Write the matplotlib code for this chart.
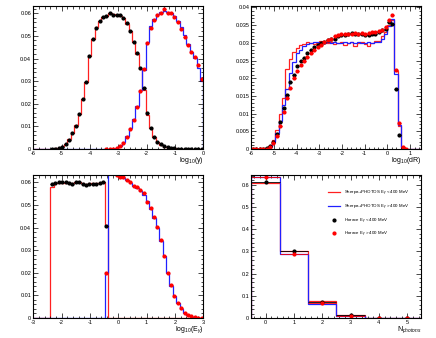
"""==============================================================
# libraries
=============================================================="""
import numpy as np
import matplotlib
matplotlib.use("Agg")
import matplotlib.pyplot as plt
from matplotlib.ticker import MultipleLocator, FuncFormatter

plt.rcParams["font.family"] = ["Liberation Sans", "DejaVu Sans"]
plt.rcParams["axes.unicode_minus"] = False
plt.rcParams["mathtext.fontset"] = "custom"
plt.rcParams["mathtext.rm"] = "Liberation Sans"
plt.rcParams["mathtext.it"] = "Liberation Sans:italic"

nan = np.nan

"""==============================================================
# data : log10(y), 50 bins from -6 to 0
=============================================================="""
y_edges = np.linspace(-6, 0, 51)

y_sherpa_lo = [0, 0, 0, 0, 0, 0.0001, 0.0003, 0.0006, 0.0012, 0.0022,
               0.0042, 0.0072, 0.0105, 0.0155, 0.0222, 0.0298, 0.0412, 0.0488, 0.0538, 0.0565,
               0.0583, 0.0590, 0.0600, 0.0596, 0.0594, 0.0590, 0.0577, 0.0553, 0.0520, 0.0474,
               0.0420, 0.0355, 0.0262, 0.0152, 0.0092, 0.0052, 0.0030, 0.0018, 0.0011, 0.0007,
               0.0004, 0.0003, 0.0002, 0.0001, 0.0001, 0.0001, 0.0001, 0.0001, 0.0001, 0.0001]
y_sherpa_hi = [0, 0, 0, 0, 0, 0, 0, 0, 0, 0,
               0, 0, 0, 0, 0, 0, 0, 0, 0, 0,
               0, 0, 0.0001, 0.0002, 0.0005, 0.0013, 0.0030, 0.0058, 0.0092, 0.0132,
               0.0190, 0.0260, 0.0350, 0.0472, 0.0545, 0.0575, 0.0595, 0.0605, 0.0612, 0.0605,
               0.0600, 0.0590, 0.0565, 0.0540, 0.0505, 0.0462, 0.0430, 0.0402, 0.0357, 0.0302]
y_horace_lo = [nan, nan, nan, nan, nan, 0, 0, 0.0003, 0.0010, 0.0020,
               0.0040, 0.0070, 0.0103, 0.0155, 0.0220, 0.0295, 0.0413, 0.0486, 0.0536, 0.0566,
               0.0585, 0.0588, 0.0600, 0.0593, 0.0594, 0.0592, 0.0578, 0.0556, 0.0520, 0.0475,
               0.0424, 0.0357, 0.0271, 0.0158, 0.0094, 0.0054, 0.0032, 0.0020, 0.0012, 0.0008,
               0.0005, 0.0003, 0.0002, 0.0001, 0.0001, 0.0001, 0.0001, 0.0001, 0.0001, 0.0001]
y_horace_hi = [nan, nan, nan, nan, nan, nan, nan, nan, nan, nan,
               nan, nan, nan, nan, nan, nan, nan, nan, nan, nan,
               nan, 0, 0, 0.0001, 0.0004, 0.0012, 0.0028, 0.0055, 0.0087, 0.0130,
               0.0187, 0.0258, 0.0352, 0.0470, 0.0534, 0.0570, 0.0593, 0.0603, 0.0619, 0.0603,
               0.0600, 0.0585, 0.0560, 0.0530, 0.0497, 0.0460, 0.0430, 0.0405, 0.0372, 0.0310]

"""==============================================================
# data : log10(dR), 50 bins from -6 to 1.5
=============================================================="""
dr_edges = np.linspace(-6, 1.5, 51)

dr_sherpa_lo = [0, 0, 0, 0, 0.0002, 0.0008, 0.0025, 0.0055, 0.0098, 0.0145,
                0.0225, 0.0255, 0.0275, 0.0285, 0.0295, 0.0298, 0.0302, 0.0300, 0.0297, 0.0300,
                0.0305, 0.0303, 0.0300, 0.0302, 0.0298, 0.0300, 0.0302, 0.0295, 0.0300, 0.0303,
                0.0292, 0.0300, 0.0302, 0.0296, 0.0290, 0.0300, 0.0305, 0.0305, 0.0318, 0.0330,
                0.0350, 0.0365, 0.0220, 0.0065, 0.0005, 0, 0, 0, 0, 0]
dr_sherpa_hi = [0, 0, 0, 0, 0.0001, 0.0006, 0.0020, 0.0045, 0.0078, 0.0125,
                0.0170, 0.0215, 0.0245, 0.0270, 0.0280, 0.0290, 0.0297, 0.0300, 0.0302, 0.0301,
                0.0299, 0.0300, 0.0301, 0.0300, 0.0302, 0.0300, 0.0299, 0.0301, 0.0300, 0.0302,
                0.0300, 0.0301, 0.0300, 0.0299, 0.0301, 0.0300, 0.0302, 0.0302, 0.0310, 0.0325,
                0.0348, 0.0368, 0.0212, 0.0068, 0.0002, 0, 0, 0, 0, 0]
dr_horace_lo = [0, 0, 0, 0, 0.0002, 0.0008, 0.0020, 0.0042, 0.0077, 0.0115,
                0.0153, 0.0188, 0.0210, 0.0235, 0.0250, 0.0258, 0.0270, 0.0280, 0.0288, 0.0295,
                0.0300, 0.0303, 0.0307, 0.0310, 0.0312, 0.0318, 0.0322, 0.0323, 0.0326, 0.0327,
                0.0326, 0.0325, 0.0324, 0.0322, 0.0322, 0.0325, 0.0326, 0.0330, 0.0335, 0.0340,
                0.0358, 0.0353, 0.0170, 0.0040, 0.0002, nan, nan, nan, nan, nan]
dr_horace_hi = [0, 0, 0, 0, 0.0001, 0.0006, 0.0018, 0.0037, 0.0065, 0.0104,
                0.0143, 0.0171, 0.0200, 0.0220, 0.0237, 0.0248, 0.0260, 0.0270, 0.0280, 0.0288,
                0.0295, 0.0302, 0.0308, 0.0312, 0.0318, 0.0322, 0.0325, 0.0325, 0.0326, 0.0325,
                0.0327, 0.0326, 0.0327, 0.0326, 0.0328, 0.0330, 0.0331, 0.0333, 0.0336, 0.0345,
                0.0365, 0.0380, 0.0222, 0.0073, 0.0005, 0.0001, nan, nan, nan, nan]

"""==============================================================
# data : log10(E_gamma), 50 bins from -3 to 3
=============================================================="""
e_edges = np.linspace(-3, 3, 51)

e_sherpa_lo = [0, 0, 0, 0, 0, 0.0578, 0.0595, 0.0598, 0.0598, 0.0597,
               0.0596, 0.0595, 0.0600, 0.0600, 0.0595, 0.0594, 0.0595, 0.0596, 0.0595, 0.0597,
               0.0602, 0.0410, 0, 0, 0, 0, 0, 0, 0, 0,
               0, 0, 0, 0, 0, 0, 0, 0, 0, 0,
               0, 0, 0, 0, 0, 0, 0, 0, 0, 0]
e_sherpa_hi = [0, 0, 0, 0, 0, 0, 0, 0, 0, 0,
               0, 0, 0, 0, 0, 0, 0, 0, 0, 0,
               0, 0.0200, 0.1100, 0.0750, 0.0632, 0.0628, 0.0620, 0.0608, 0.0598, 0.0583,
               0.0575, 0.0562, 0.0545, 0.0515, 0.0480, 0.0440, 0.0398, 0.0342, 0.0275, 0.0198,
               0.0143, 0.0098, 0.0066, 0.0040, 0.0022, 0.0012, 0.0006, 0.0003, 0.0001, 0.0001]
e_horace_lo = [nan, nan, nan, nan, nan, 0.0592, 0.0597, 0.0599, 0.0599, 0.0599,
               0.0598, 0.0594, 0.0603, 0.0601, 0.0594, 0.0590, 0.0593, 0.0592, 0.0594, 0.0595,
               0.0603, 0.0408, nan, nan, nan, nan, nan, nan, nan, nan,
               nan, nan, nan, nan, nan, nan, nan, nan, nan, nan,
               nan, nan, nan, nan, nan, nan, nan, nan, nan, nan]
e_horace_hi = [nan, nan, nan, nan, nan, nan, nan, nan, nan, nan,
               nan, nan, nan, nan, nan, nan, nan, nan, nan, nan,
               nan, 0.0200, 0.1100, 0.0750, 0.0630, 0.0625, 0.0622, 0.0610, 0.0600, 0.0585,
               0.0577, 0.0566, 0.0551, 0.0512, 0.0485, 0.0445, 0.0401, 0.0345, 0.0276, 0.0200,
               0.0146, 0.0099, 0.0068, 0.0043, 0.0023, 0.0013, 0.0007, 0.0004, 0.0002, 0.0001]

"""==============================================================
# data : N photons
=============================================================="""
n_edges = np.arange(-0.5, 6.0, 1.0)

n_sherpa_lo = [0.610, 0.302, 0.075, 0.012, 0.001, 0.0]
n_sherpa_hi = [0.633, 0.290, 0.065, 0.010, 0.0008, 0.0]
n_horace_lo = [0.612, 0.303, 0.073, 0.012, 0.002, 0.0001]
n_horace_hi = [0.635, 0.290, 0.066, 0.011, 0.0015, 0.0005]

labels = ["Sherpa+PHOTOS E$_{\\gamma}$ < 400 MeV",
          "Sherpa+PHOTOS E$_{\\gamma}$ > 400 MeV",
          "Horace E$_{\\gamma}$ < 400 MeV",
          "Horace E$_{\\gamma}$ > 400 MeV"]

"""==============================================================
# figure
=============================================================="""
fig = plt.figure(figsize=(4.36, 3.38), dpi=100)

ax_y = fig.add_axes([0.0764, 0.5592, 0.3899, 0.4230])
ax_dr = fig.add_axes([0.5765, 0.5592, 0.3899, 0.4230])
ax_e = fig.add_axes([0.0764, 0.0592, 0.3899, 0.4230])
ax_n = fig.add_axes([0.5765, 0.0592, 0.3899, 0.4230])


def fmt(v, pos):
    return "0" if abs(v) < 1e-12 else "%g" % v


def draw_panel(ax, edges, s_lo, s_hi, h_lo, h_hi, xlim, ylim,
               xmaj, xmin, ymaj, ymin, xlabel):
    centers = 0.5 * (edges[1:] + edges[:-1])
    half = 0.5 * (edges[1] - edges[0])

    # sherpa histograms
    ax.stairs(s_lo, edges, color="#ff2020", lw=0.9, label=labels[0])
    ax.stairs(s_hi, edges, color="#2020ff", lw=0.9, label=labels[1])

    # horace points with bin-width error bars
    ax.errorbar(centers, h_lo, xerr=half, fmt="none", ecolor="black",
                elinewidth=0.6, capsize=0)
    ax.errorbar(centers, h_hi, xerr=half, fmt="none", ecolor="red",
                elinewidth=0.6, capsize=0)
    ax.plot(centers, h_lo, "o", color="black", ms=2.0, label=labels[2])
    ax.plot(centers, h_hi, "o", color="red", ms=2.0, label=labels[3])

    ax.set_xlim(xlim)
    ax.set_ylim(ylim)
    ax.xaxis.set_major_locator(MultipleLocator(xmaj))
    ax.xaxis.set_minor_locator(MultipleLocator(xmin))
    ax.yaxis.set_major_locator(MultipleLocator(ymaj))
    ax.yaxis.set_minor_locator(MultipleLocator(ymin))
    ax.xaxis.set_major_formatter(FuncFormatter(fmt))
    ax.yaxis.set_major_formatter(FuncFormatter(fmt))

    ax.tick_params(which="both", direction="in", top=True, right=True,
                   labelsize=4, width=0.5, pad=1.5)
    ax.tick_params(which="major", length=3.5)
    ax.tick_params(which="minor", length=1.8)
    for sp in ax.spines.values():
        sp.set_linewidth(0.8)

    ax.text(1.0, -0.045, xlabel, transform=ax.transAxes, ha="right", va="top",
            fontsize=5)


draw_panel(ax_y, y_edges, y_sherpa_lo, y_sherpa_hi, y_horace_lo, y_horace_hi,
           (-6, 0), (0, 0.0632), 1, 0.2, 0.01, 0.002, "log$_{10}$(y)")
draw_panel(ax_dr, dr_edges, dr_sherpa_lo, dr_sherpa_hi, dr_horace_lo, dr_horace_hi,
           (-6, 1.5), (0, 0.0404), 1, 0.2, 0.005, 0.001, "log$_{10}$(dR)")
draw_panel(ax_e, e_edges, e_sherpa_lo, e_sherpa_hi, e_horace_lo, e_horace_hi,
           (-3, 3), (0, 0.0632), 1, 0.2, 0.01, 0.002, "log$_{10}$(E$_{\\gamma}$)")
draw_panel(ax_n, n_edges, n_sherpa_lo, n_sherpa_hi, n_horace_lo, n_horace_hi,
           (-0.5, 5.5), (0, 0.644), 1, 0.2, 0.1, 0.02, "N$_{photons}$")

ax_n.legend(loc="upper left", bbox_to_anchor=(0.44, 0.92), frameon=False,
            fontsize=3.2, handlelength=2.8, handletextpad=0.9, labelspacing=1.1,
            borderaxespad=0)

fig.savefig("out.png", dpi=100)
